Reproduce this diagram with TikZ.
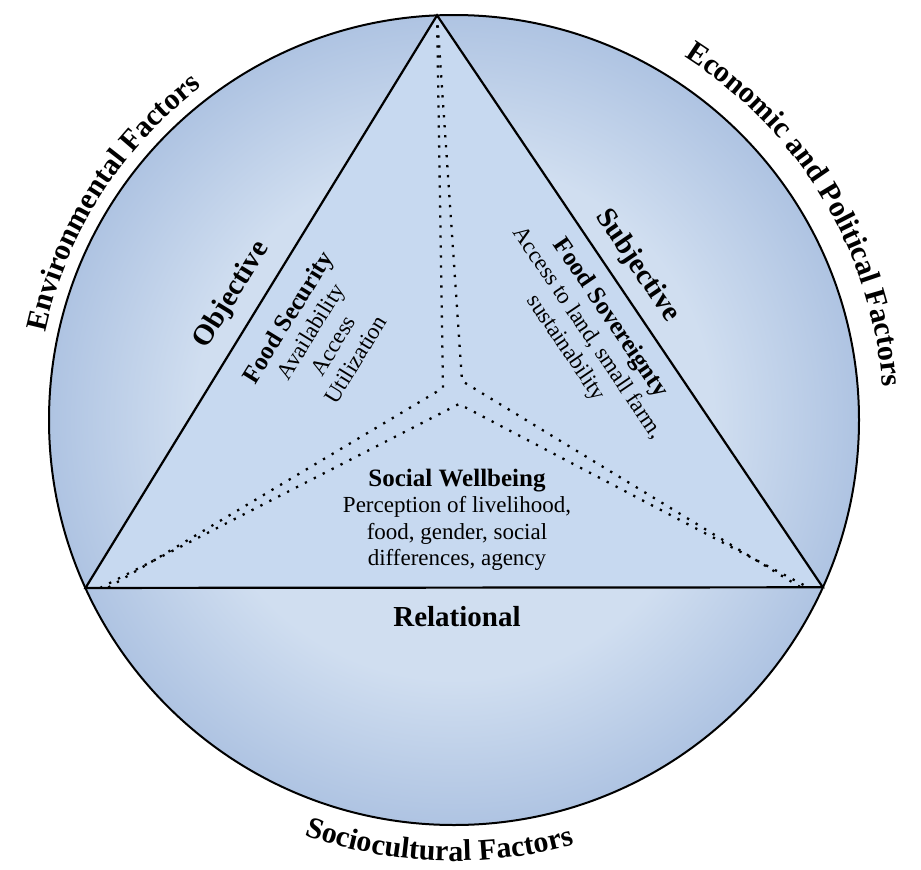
\documentclass[tikz,border=0pt]{standalone}
\usepackage{fontspec}
\setmainfont{Liberation Serif}
\usepackage{xcolor}
\usetikzlibrary{decorations.text, calc, positioning}

\definecolor{ringlight}{RGB}{208,222,240}
\definecolor{ringdark}{RGB}{136,165,210}
\definecolor{trifill}{RGB}{199,217,240}
\pgfdeclareradialshading{ringshade}{\pgfpoint{0bp}{0bp}}{color(0bp)=(ringlight); color(16bp)=(ringlight); color(35.4bp)=(ringdark); color(50bp)=(ringdark)}

\newcommand{\ringfont}{\fontsize{30}{30}\selectfont\bfseries}

\tikzset{
    side/.style={font=\fontsize{29}{29}\selectfont\bfseries},
    block/.style={font=\fontsize{23}{26.5}\selectfont, align=center, inner sep=0pt},
    divider/.style={line width=2.3pt, dash pattern=on 2.3pt off 7.7pt},
    ringtext/.style={decorate, decoration={text along path, text align=center}}
}

\begin{document}
\begin{tikzpicture}[x=1pt, y=1pt]
        \useasboundingbox (0,0) rectangle (921,-870);
        \coordinate (o) at (454,-420);

        % circle of factors
        \shade[shading=ringshade] (o) circle[radius=405];
        \draw[line width=2pt] (o) circle[radius=405];

        % triangle corners and inner meeting points
        \coordinate (top) at ($(o)+(92.4:405)$);
        \coordinate (bl) at ($(o)+(204.5:405)$);
        \coordinate (br) at ($(o)+(-24.4:405)$);
        \coordinate (cl) at (443,-388);
        \coordinate (cr) at (462,-381);
        \coordinate (cb) at (459,-404);

        \fill[trifill] (top) -- (bl) -- (br) -- cycle;

        % dotted dividers
        \draw[divider] (top) -- (cl) -- ($(bl)!0.03!(br)$);
        \draw[divider] (top) -- (cr) -- ($(br)!0.03!(bl)$);
        \draw[divider] ($(bl)!0.02!(br)$) -- (cb) -- ($(br)!0.02!(bl)$);

        \draw[line width=2.2pt, line join=miter] (top) -- (bl) -- (br) -- cycle;

        % side labels
        \node[side, rotate=58.3] (objective) at (232,-295) {Objective};
        \node[side, rotate=-55.8] (subjective) at (637,-266) {Subjective};
        \node[side] (relational) at (457,-617) {Relational};

        % inner blocks
        \node[block, rotate=58.3] (security) at (321,-338)
            {{\fontsize{25}{26.5}\selectfont\bfseries Food Security}\\Availability\\Access\\Utilization};
        \node[block, rotate=-55.8] (sovereignty) at (588,-333)
            {{\fontsize{25}{26.5}\selectfont\bfseries Food Sovereignty}\\Access to land, small farm,\\sustainability};
        \node[block] (wellbeing) at (457,-520)
            {{\fontsize{25}{26.5}\selectfont\bfseries Social Wellbeing}\\Perception of livelihood,\\food, gender, social\\differences, agency};

        % factors round the circle
        \path[ringtext, decoration={text={|\ringfont|Environmental Factors}}]
            ($(o)+(176:418)$) arc[start angle=176, end angle=119, radius=418];
        \path[ringtext, decoration={text={|\ringfont|Economic and Political Factors}}]
            ($(o)+(66:430)$) arc[start angle=66, end angle=-4, radius=430];
        \path[ringtext, decoration={text={|\ringfont|Sociocultural Factors}}]
            ($(o)+(238:441)$) arc[start angle=238, end angle=298, radius=441];

    \end{tikzpicture}
\end{document}
